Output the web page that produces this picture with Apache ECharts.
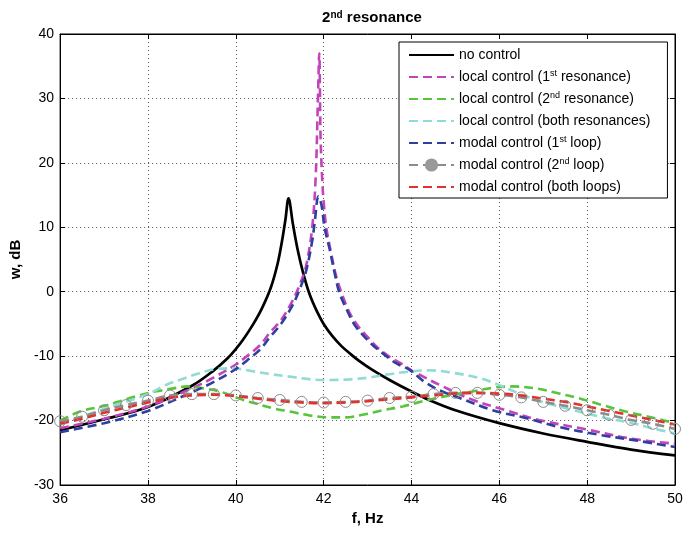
<!DOCTYPE html>
<html>
<head>
<meta charset="utf-8">
<title>2nd resonance</title>
<script src="https://cdn.jsdelivr.net/npm/echarts@6/dist/echarts.min.js"></script>
<style>
  html, body { margin: 0; padding: 0; background: #fff; }
  #chart { width: 686px; height: 533px; }
</style>
</head>
<body>
<div id="chart"></div>
<script>
// frequency (Hz) / response (dB), one pair of arrays per curve
var fNone = [36, 37, 38, 39, 39.5, 39.8, 40, 40.2, 40.4, 40.6, 40.8, 40.95, 41.05, 41.13, 41.2, 41.3, 41.4, 41.53, 41.68, 41.85, 42, 42.2, 42.4, 42.6, 42.8, 43.1, 43.5, 44, 44.4, 45, 46, 47, 48, 49, 50];
var wNone = [-21.5, -19.8, -17.9, -14.6, -12.2, -10.4, -8.9, -7.1, -5.0, -2.5, 0.7, 4.3, 7.8, 11.2, 14.5, 10.5, 6.8, 3.0, -0.4, -3.1, -5.0, -6.9, -8.4, -9.6, -10.7, -12.1, -13.7, -15.5, -16.8, -18.4, -20.4, -22, -23.3, -24.5, -25.4];

var fLocal1 = [36, 37, 38, 39, 39.5, 40, 40.25, 40.55, 40.77, 41.04, 41.3, 41.45, 41.6, 41.74, 41.82, 41.87, 41.9, 41.93, 41.97, 42.0, 42.06, 42.17, 42.29, 42.44, 42.6, 42.8, 43, 43.2, 43.5, 43.75, 44, 44.3, 44.65, 45.4, 46.15, 46.9, 48, 49, 50];
var wLocal1 = [-21.2, -19.7, -17.8, -15.0, -13.3, -11.3, -10, -8.3, -6.4, -4.3, -1.3, 1, 4, 10, 18, 30, 37, 24, 17, 14, 10, 6, 2.3, -0.8, -3.4, -5.5, -7, -8.5, -10.1, -11.1, -12.2, -13.3, -14.5, -16.8, -18.4, -19.9, -21.4, -22.8, -23.6];

var fLocal2 = [36, 36.45, 36.95, 37.36, 37.74, 38.16, 38.58, 38.9, 39.26, 39.64, 40.17, 40.43, 40.85, 41.23, 41.68, 42.1, 42.5, 42.89, 43.35, 43.8, 44.26, 44.5, 44.94, 45.39, 45.85, 46.3, 46.83, 47.36, 47.8, 48.35, 48.88, 49.4, 50];
var wLocal2 = [-20, -18.6, -17.8, -17, -16.2, -15.5, -15, -14.7, -15, -15.5, -16.8, -17.3, -18.1, -18.6, -19.2, -19.5, -19.5, -19.1, -18.4, -17.8, -17.0, -16.6, -16.0, -15.5, -14.9, -14.7, -15.0, -15.8, -16.5, -17.6, -18.6, -19.4, -20.4];

var fLocalBoth = [36, 37, 38, 38.4, 38.8, 39.15, 39.55, 39.95, 40.35, 40.8, 41.25, 41.7, 42.15, 42.6, 43.05, 43.5, 43.95, 44.4, 44.86, 45.55, 46, 46.45, 46.98, 47.52, 48.05, 48.42, 49.03, 49.48, 50];
var wLocalBoth = [-20.6, -18.2, -15.9, -14.5, -13.5, -12.7, -12.0, -11.9, -12.3, -12.8, -13.2, -13.6, -13.7, -13.6, -13.3, -12.8, -12.4, -12.2, -12.5, -13.4, -14.5, -15.8, -17.1, -18.1, -19.0, -19.6, -20.4, -21.2, -22.0];

var fModal1 = [36, 37, 38, 39, 39.5, 40, 40.25, 40.55, 40.77, 41.04, 41.3, 41.45, 41.6, 41.74, 41.8, 41.88, 41.95, 42.02, 42.14, 42.25, 42.36, 42.52, 42.7, 42.89, 43.12, 43.39, 43.65, 43.95, 44.3, 44.64, 45.1, 45.85, 46.6, 47.36, 48.27, 49.03, 50];
var wModal1 = [-21.8, -20.4, -18.5, -15.6, -14, -12, -10.7, -9, -7.1, -4.9, -2, 0.3, 3.2, 7.9, 11, 14.8, 13.5, 10, 6.5, 2.9, -0.2, -2.7, -5.1, -6.7, -8.3, -9.8, -11.1, -12.1, -14, -15.3, -16.5, -18.4, -19.6, -21, -22.2, -23, -24.1];

var fHalf = [36, 36.5, 37, 37.5, 38, 38.5, 39, 39.5, 40, 40.5, 41, 41.5, 42, 42.5, 43, 43.5, 44, 44.5, 45, 45.5, 46, 46.5, 47, 47.5, 48, 48.5, 49, 49.5, 50];
var wModal2 = [-20.1, -19.4, -18.4, -17.6, -16.9, -16.1, -15.9, -15.9, -16.1, -16.5, -16.8, -17.1, -17.2, -17.1, -16.9, -16.5, -16.3, -15.9, -15.7, -15.7, -16.0, -16.4, -17.1, -17.7, -18.4, -19.1, -19.9, -20.5, -21.3];
var wModalBoth = [-20.5, -19.7, -18.8, -18.0, -17.2, -16.5, -16.1, -16.0, -16.2, -16.6, -17.0, -17.2, -17.3, -17.2, -17.0, -16.7, -16.4, -16.1, -15.8, -15.7, -15.8, -16.1, -16.6, -17.1, -17.8, -18.5, -19.2, -19.9, -20.6];

var xTicks = [36, 38, 40, 42, 44, 46, 48, 50];
var yTicks = [-30, -20, -10, 0, 10, 20, 30, 40];

var names = [
  'no control',
  'local control (1{s|st} resonance)',
  'local control (2{s|nd} resonance)',
  'local control (both resonances)',
  'modal control (1{s|st} loop)',
  'modal control (2{s|nd} loop)',
  'modal control (both loops)'
];

function zip(xs, ys) {
  return xs.map(function (x, i) { return [x, ys[i]]; });
}

var font = '"Liberation Sans", Arial, Helvetica, sans-serif';
var dash = [9, 5];

function dashed(name, xs, ys, color) {
  return {
    name: name, type: 'line', data: zip(xs, ys), symbol: 'none', smooth: 0.35,
    lineStyle: { color: color, width: 2.6, type: dash },
    itemStyle: { color: color }
  };
}

var series = [
  {
    name: names[0], type: 'line', data: zip(fNone, wNone), symbol: 'none', smooth: 0.35,
    lineStyle: { color: '#000', width: 2.7 }, itemStyle: { color: '#000' }
  },
  dashed(names[1], fLocal1, wLocal1, '#c244b9'),
  dashed(names[2], fLocal2, wLocal2, '#58c43c'),
  dashed(names[3], fLocalBoth, wLocalBoth, '#8fdbd5'),
  dashed(names[4], fModal1, wModal1, '#2e3f9f'),
  {
    name: names[5], type: 'line', data: zip(fHalf, wModal2), symbol: 'circle', symbolSize: 11,
    showAllSymbol: true, smooth: 0.35,
    lineStyle: { color: '#8c8c8c', width: 2.6, type: dash },
    itemStyle: { color: 'rgba(255,255,255,0)', borderColor: '#8c8c8c', borderWidth: 1 }
  },
  dashed(names[6], fHalf, wModalBoth, '#e2322b')
];

var tickIn = { show: true, inside: true, length: 5, lineStyle: { color: '#000' } };
var gridLine = { show: true, lineStyle: { color: '#555', type: [1, 3], width: 1 } };
var frameLine = { show: true, onZero: false, lineStyle: { color: '#000' } };

var chart = echarts.init(document.getElementById('chart'));
chart.setOption({
  animation: false,
  backgroundColor: '#fff',
  title: {
    text: '2{s|nd} resonance',
    left: 367, top: 5, textAlign: 'center',
    textStyle: {
      fontFamily: font, fontSize: 15, fontWeight: 'bold', color: '#000',
      rich: { s: { fontFamily: font, fontSize: 10, fontWeight: 'bold', verticalAlign: 'top', color: '#000' } }
    }
  },
  grid: { left: 60, right: 11, top: 34, bottom: 48, show: true, borderColor: '#000', borderWidth: 1 },
  legend: {
    orient: 'vertical', left: 399, top: 42,
    padding: [5, 17, 3, 9], itemGap: 6, itemWidth: 45, itemHeight: 14,
    backgroundColor: '#fff', borderColor: '#000', borderWidth: 1,
    data: names.map(function (n, i) {
      return i === 5
        ? { name: n, itemStyle: { color: '#999', borderColor: '#999', opacity: 1 } }
        : { name: n, itemStyle: { opacity: 0 } };
    }),
    textStyle: {
      fontFamily: font, fontSize: 14, color: '#000', lineHeight: 16,
      rich: { s: { fontFamily: font, fontSize: 9, color: '#000', verticalAlign: 'top', lineHeight: 16 } }
    }
  },
  xAxis: [{
    type: 'value', min: 36, max: 50, interval: 2,
    name: 'f, Hz', nameLocation: 'middle', nameGap: 26,
    nameTextStyle: { fontFamily: font, fontSize: 15, fontWeight: 'bold', color: '#000' },
    axisLine: frameLine,
    axisTick: tickIn, splitLine: gridLine,
    axisLabel: { fontFamily: font, fontSize: 14, color: '#000', margin: 7,
      formatter: function (v) { return xTicks.indexOf(v) >= 0 ? String(v) : ''; } }
  }, {
    type: 'value', min: 36, max: 50, interval: 2, position: 'top',
    axisLine: frameLine,
    axisTick: tickIn, axisLabel: { show: false }, splitLine: { show: false }
  }],
  yAxis: [{
    type: 'value', min: -30, max: 40, interval: 10,
    name: 'w, dB', nameLocation: 'middle', nameGap: 36,
    nameTextStyle: { fontFamily: font, fontSize: 15, fontWeight: 'bold', color: '#000' },
    axisLine: frameLine,
    axisTick: tickIn, splitLine: gridLine,
    axisLabel: { fontFamily: font, fontSize: 14, color: '#000', margin: 6,
      formatter: function (v) { return yTicks.indexOf(v) >= 0 ? String(v) : ''; } }
  }, {
    type: 'value', min: -30, max: 40, interval: 10, position: 'right',
    axisLine: frameLine,
    axisTick: tickIn, axisLabel: { show: false }, splitLine: { show: false }
  }],
  series: series
});
</script>
</body>
</html>
